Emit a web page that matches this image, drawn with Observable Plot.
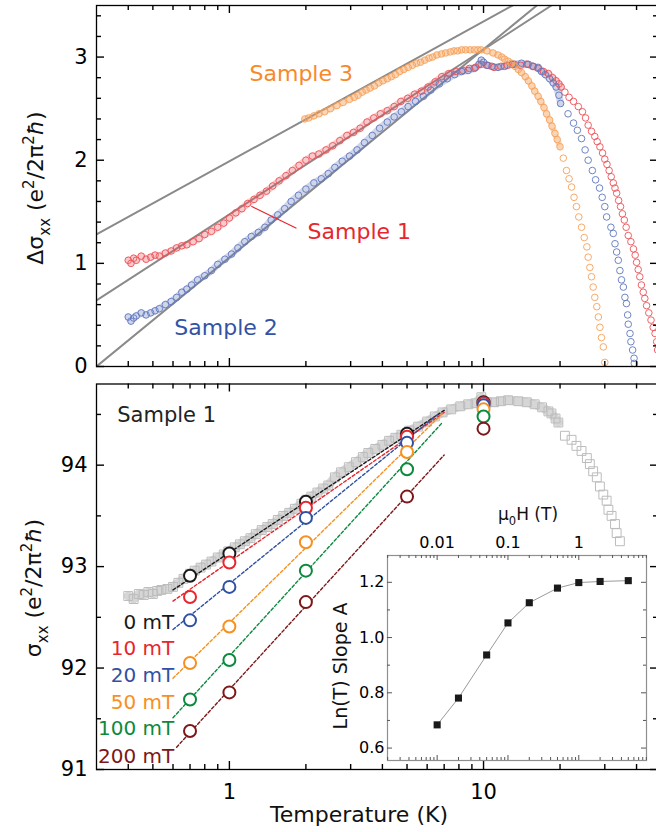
<!DOCTYPE html>
<html><head><meta charset="utf-8">
<script src="https://cdn.jsdelivr.net/npm/d3@7"></script>
<script src="https://cdn.jsdelivr.net/npm/@observablehq/plot@0.6"></script>
<style>
body{margin:0;background:#fff;}
#wrap{position:relative;width:656px;height:832px;overflow:hidden;background:#fff;}
#wrap svg{position:absolute;}
</style></head><body><div id="wrap"></div>
<script>
// ---------------- DATA ----------------
// Top panel: Δσxx vs T (K) for three samples
const sample1 = [
[0.40,1.03],[0.41,1.00],[0.42,1.05],[0.43,1.03],[0.45,1.07],[0.47,1.04],[0.49,1.06],[0.51,1.08],[0.53,1.07],[0.56,1.10],[0.59,1.12],[0.62,1.15],[0.65,1.17],[0.68,1.18],[0.72,1.21],[0.76,1.24],[0.80,1.28],[0.85,1.31],[0.90,1.35],[0.95,1.39],[1.00,1.44],[1.06,1.49],[1.12,1.53],[1.18,1.58],[1.25,1.62],[1.32,1.66],[1.40,1.70],[1.48,1.75],[1.57,1.80],[1.67,1.85],[1.77,1.90],[1.88,1.95],[2.00,2.00],[2.12,2.04],[2.25,2.06],[2.40,2.10],[2.55,2.14],[2.72,2.19],[2.90,2.24],[3.08,2.27],[3.27,2.31],[3.48,2.37],[3.70,2.41],[3.93,2.45],[4.18,2.48],[4.45,2.52],[4.73,2.57],[5.03,2.60],[5.35,2.64],[5.70,2.67],[6.05,2.71],[6.45,2.76],[6.85,2.81],[7.30,2.84],[7.80,2.86],[8.30,2.87],[8.80,2.89],[9.30,2.90],[9.80,2.93],[10.4,2.92],[11.0,2.90],[11.7,2.91],[12.4,2.92],[13.2,2.93],[14.0,2.92],[14.8,2.93],[15.6,2.91],[16.4,2.89],[17.2,2.86],[18.0,2.84],[18.7,2.80],[19.3,2.77],[19.8,2.74],[20.2,2.71],
[20.9,2.66],[21.7,2.61],[22.6,2.57],[23.6,2.52],[24.5,2.47],[25.2,2.41],[25.8,2.34],[26.6,2.28],[27.4,2.23],[28.0,2.18],[28.7,2.13],[29.4,2.07],[30.0,2.01],[30.6,1.96],[31.2,1.90],[31.8,1.84],[32.4,1.78],[32.9,1.73],[33.4,1.68],[34.0,1.61],[34.6,1.55],[35.2,1.48],[35.8,1.42],[36.4,1.35],[37.1,1.27],[38.0,1.21],[38.9,1.14],[39.5,1.08],[40.0,1.01],[40.6,0.94],[41.2,0.87],[41.8,0.79],[42.5,0.72],[43.1,0.66],[43.8,0.59],[44.7,0.52],[45.6,0.45],[46.5,0.38],[47.3,0.32],[48.0,0.24],[48.4,0.16]
];
const sample2 = [
[0.40,0.48],[0.41,0.44],[0.42,0.47],[0.43,0.49],[0.45,0.52],[0.47,0.50],[0.49,0.52],[0.51,0.54],[0.53,0.56],[0.56,0.60],[0.59,0.63],[0.62,0.67],[0.65,0.72],[0.68,0.75],[0.71,0.79],[0.75,0.84],[0.80,0.88],[0.85,0.93],[0.90,0.99],[0.96,1.04],[1.02,1.09],[1.08,1.15],[1.15,1.21],[1.22,1.26],[1.30,1.30],[1.38,1.35],[1.46,1.42],[1.55,1.47],[1.65,1.53],[1.75,1.60],[1.87,1.66],[2.00,1.72],[2.15,1.78],[2.30,1.82],[2.45,1.87],[2.60,1.93],[2.78,1.99],[2.97,2.04],[3.18,2.10],[3.40,2.17],[3.65,2.24],[3.90,2.31],[4.18,2.37],[4.45,2.42],[4.75,2.47],[5.05,2.52],[5.40,2.57],[5.80,2.62],[6.20,2.68],[6.70,2.74],[7.20,2.79],[7.70,2.83],[8.20,2.86],[8.70,2.87],[9.20,2.89],[9.60,2.93],[9.80,2.97],[10.0,2.95],[10.3,2.92],[10.8,2.91],[11.4,2.90],[12.1,2.91],[13.0,2.93],[14.1,2.94],[15.0,2.93],[15.7,2.91],[16.4,2.90],[16.9,2.86],[17.5,2.83],[18.2,2.79],[18.8,2.75],[19.3,2.71],[19.8,2.63],[20.1,2.55],
[21.5,2.45],[22.6,2.36],[23.4,2.29],[24.3,2.21],[25.1,2.10],[25.8,2.00],[26.8,1.90],[27.6,1.81],[28.6,1.73],[29.3,1.64],[30.0,1.55],[30.5,1.45],[31.7,1.35],[32.4,1.29],[32.9,1.19],[33.4,1.11],[33.9,1.03],[34.4,0.93],[34.9,0.84],[35.5,0.77],[36.0,0.67],[36.5,0.61],[36.9,0.50],[37.1,0.41],[37.7,0.32],[38.0,0.24],[38.6,0.16],[39.1,0.08],[39.2,0.03]
];
const sample3 = [
[1.98,2.40],[2.05,2.41],[2.15,2.43],[2.25,2.45],[2.37,2.47],[2.50,2.50],[2.65,2.53],[2.80,2.56],[2.97,2.59],[3.10,2.61],[3.21,2.63],[3.33,2.66],[3.45,2.68],[3.58,2.70],[3.72,2.72],[3.87,2.75],[4.02,2.77],[4.18,2.79],[4.34,2.81],[4.50,2.83],[4.68,2.86],[4.86,2.88],[5.05,2.90],[5.25,2.92],[5.45,2.94],[5.65,2.95],[5.87,2.97],[6.10,2.99],[6.30,3.00],[6.55,3.02],[6.83,3.03],[7.10,3.04],[7.40,3.05],[7.65,3.06],[7.90,3.06],[8.20,3.07],[8.50,3.07],[8.85,3.07],[9.20,3.07],[9.50,3.07],[9.80,3.07],[10.3,3.06],[10.9,3.04],[11.4,3.02],[11.8,3.00],[12.1,2.98],[12.5,2.96],[12.9,2.94],[13.3,2.91],[13.7,2.88],[14.1,2.85],[14.6,2.81],[15.0,2.77],[15.5,2.72],[15.9,2.67],[16.4,2.62],[16.8,2.57],[17.3,2.51],[17.7,2.45],[18.2,2.39],[18.6,2.33],[19.1,2.26],[19.5,2.20],[20.0,2.13],
[20.6,2.02],[21.2,1.90],[21.7,1.82],[22.2,1.74],[22.7,1.64],[23.2,1.55],[23.7,1.45],[24.3,1.35],[24.9,1.25],[25.5,1.16],[25.8,1.06],[26.2,0.96],[26.6,0.87],[27.0,0.77],[27.4,0.67],[27.9,0.58],[28.3,0.48],[28.7,0.38],[29.1,0.28],[29.6,0.19],[30.0,0.04]
];
// straight ln(T) fits, endpoints [T, value]
const fitSample3 = [[0.3,1.28],[13.0,3.5]];
const fitSample1 = [[0.3,0.64],[18.5,3.5]];
const fitSample2 = [[0.3,0.0],[16.2,3.5]];

// Bottom panel: σxx of sample 1 at 0 mT (squares)
const zeroField = [
[0.40,92.71],[0.42,92.68],[0.44,92.73],[0.46,92.72],[0.48,92.75],[0.50,92.73],[0.52,92.76],[0.54,92.77],[0.57,92.78],[0.60,92.80],[0.63,92.84],[0.66,92.88],[0.70,92.93],[0.73,92.96],[0.77,92.99],[0.81,93.02],[0.85,93.05],[0.90,93.09],[0.95,93.12],[0.99,93.15],[1.05,93.19],[1.10,93.22],[1.15,93.25],[1.21,93.28],[1.27,93.32],[1.34,93.36],[1.41,93.39],[1.48,93.42],[1.55,93.46],[1.63,93.50],[1.72,93.53],[1.81,93.57],[1.92,93.62],[2.01,93.66],[2.10,93.69],[2.22,93.73],[2.34,93.77],[2.45,93.80],[2.60,93.88],[2.75,93.93],[2.95,93.98],[3.15,94.03],[3.35,94.08],[3.52,94.12],[3.75,94.16],[4.00,94.20],[4.25,94.24],[4.50,94.27],[4.75,94.30],[5.10,94.34],[5.53,94.38],[6.00,94.43],[6.43,94.48],[6.90,94.52],[7.46,94.55],[8.10,94.58],[8.70,94.60],[9.30,94.61],[9.80,94.67],[10.3,94.62],[11.0,94.62],[11.7,94.63],[12.5,94.64],[13.7,94.63],[14.8,94.62],[15.9,94.60],[17.0,94.57],[18.0,94.53],[18.5,94.51],[19.2,94.46],[19.7,94.42],
[20.9,94.29],[22.2,94.25],[23.2,94.19],[24.3,94.14],[25.5,94.07],[26.2,94.01],[27.0,93.94],[27.9,93.88],[28.7,93.79],[29.6,93.71],[30.5,93.65],[31.0,93.56],[31.9,93.50],[32.9,93.42],[33.4,93.33],[34.4,93.25]
];
// field-dependent points (circles) at these temperatures
const fields = ["0 mT","10 mT","20 mT","50 mT","100 mT","200 mT"];
const circleT = [0.7, 1, 2, 5, 10];
const sigma0mT   = [92.91, 93.13, 93.64, 94.31, 94.62];
const sigma10mT  = [92.70, 93.04, 93.58, 94.28, 94.61];
const sigma20mT  = [92.47, 92.80, 93.48, 94.22, 94.59];
const sigma50mT  = [92.05, 92.41, 93.24, 94.13, 94.55];
const sigma100mT = [91.69, 92.08, 92.96, 93.96, 94.48];
const sigma200mT = [91.38, 91.76, 92.65, 93.69, 94.36];
// dashed ln(T) fits: start and end [T, σ]
const fitStartT = [0.6, 0.6, 0.6, 0.6, 0.6, 0.62];
const fitStartV = [92.77, 92.66, 92.38, 91.90, 91.51, 91.22];
const fitEndT   = [7.0, 7.0, 6.6, 6.9, 6.83, 7.0];
const fitEndV   = [94.54, 94.52, 94.50, 94.51, 94.41, 94.10];

// Inset: Ln(T) slope A vs μ0H (T)
const fieldH = [0.01, 0.02, 0.05, 0.1, 0.2, 0.5, 1, 2, 5];
const slopeA = [0.684, 0.781, 0.937, 1.053, 1.126, 1.179, 1.199, 1.203, 1.206];

// Tick values
const xMajor = [1, 10];
const xMinor = [0.4,0.5,0.6,0.7,0.8,0.9,2,3,4,5,6,7,8,9,20,30,40];
const topYMajor = [0,1,2,3];
const topYMinor = [0.2,0.4,0.6,0.8,1.2,1.4,1.6,1.8,2.2,2.4,2.6,2.8,3.2,3.4];
const botYMajor = [91,92,93,94];
const botYMinor = [91.5,92.5,93.5,94.5];
const insetXMajor = [0.01, 0.1, 1];
const insetXMinor = [0.002,0.003,0.004,0.005,0.006,0.007,0.008,0.009,0.02,0.03,0.04,0.05,0.06,0.07,0.08,0.09,0.2,0.3,0.4,0.5,0.6,0.7,0.8,0.9,2,3,4,5,6,7,8,9];
const insetYMajor = [0.6, 0.8, 1.0, 1.2];
const insetYMinor = [0.7, 0.9, 1.1];

// ---------------- STYLE ----------------
const FONT = "'DejaVu Sans', sans-serif";
const fieldColors = ["#1a1a1a", "#e8262d", "#2f51a3", "#f7901e", "#0b8a3e", "#7d1718"];
const sampleColors = {s1: "#e8262d", s2: "#3452a4", s3: "#f7892b"};
const dotColors = {s1: "#ec5157", s2: "#6077bd", s3: "#f6a059"};
const svgStyle = {background: "transparent", maxWidth: "none", fontFamily: FONT, overflow: "visible", color: "black"};

const X = d => d[0], Y = d => d[1];
const I = d => d;

// inward ticks on all four sides as short rules; tick length converted from px to data units
function boxTicks(xDom, yDom, fw, fh, xMaj, xMin, yMaj, yMin, major, minor, stroke, sw) {
  const [x0, x1] = xDom, [y0, y1] = yDom;
  const pxPerDecade = fw / Math.log10(x1 / x0);
  const pxPerUnit = fh / (y1 - y0);
  const xl = len => x0 * Math.pow(10, len / pxPerDecade);
  const xr = len => x1 / Math.pow(10, len / pxPerDecade);
  const yb = len => y0 + len / pxPerUnit;
  const yt = len => y1 - len / pxPerUnit;
  const o = {stroke, strokeWidth: sw};
  const marks = [];
  for (const [arr, len] of [[xMaj, major], [xMin, minor]]) {
    marks.push(Plot.ruleX(arr, {...o, x: I, y1: y0, y2: yb(len)}));
    marks.push(Plot.ruleX(arr, {...o, x: I, y1: yt(len), y2: y1}));
  }
  for (const [arr, len] of [[yMaj, major], [yMin, minor]]) {
    marks.push(Plot.ruleY(arr, {...o, y: I, x1: x0, x2: xl(len)}));
    marks.push(Plot.ruleY(arr, {...o, y: I, x1: xr(len), x2: x1}));
  }
  return marks;
}

function rich(svg, {x, y, rotate, size, anchor = "middle", parts, fill = "#111", family = FONT}) {
  const t = d3.select(svg).append("text")
    .attr("transform", `translate(${x},${y})` + (rotate ? ` rotate(${rotate})` : ""))
    .attr("text-anchor", anchor).attr("font-size", size).attr("fill", fill)
    .attr("font-family", family);
  let shift = 0;
  for (const [s, m, extra] of parts) {
    const target = m === "sub" ? size * 0.3 : m === "sup" ? -size * 0.42 : 0;
    const sp = t.append("tspan").text(s).attr("dy", target - shift);
    if (m === "sub" || m === "sup") sp.attr("font-size", size * 0.68);
    if (extra === "italic") sp.attr("font-style", "italic");
    shift = target;
  }
  return t;
}

const wrap = document.getElementById("wrap");
const mainX = [0.3, 48.8];
const topY = [0, 3.5];
const botY = [91, 94.8];

// ---------------- TOP PANEL ----------------
const dense = (arr, lim) => arr.filter(d => d[0] <= lim);
const topPlot = Plot.plot({
  width: 660, height: 372,
  marginLeft: 96, marginRight: 2, marginTop: 5, marginBottom: 6,
  x: {type: "log", domain: mainX, axis: null},
  y: {domain: topY, axis: null},
  style: svgStyle,
  marks: [
    Plot.line(fitSample3, {x: X, y: Y, stroke: "#8a8a8a", strokeWidth: 2, clip: true}),
    Plot.line(fitSample1, {x: X, y: Y, stroke: "#8a8a8a", strokeWidth: 2, clip: true}),
    Plot.line(fitSample2, {x: X, y: Y, stroke: "#8a8a8a", strokeWidth: 2, clip: true}),
    Plot.line(dense(sample1, 20.3), {x: X, y: Y, stroke: dotColors.s1, strokeWidth: 7, strokeOpacity: 0.3}),
    Plot.line(dense(sample2, 20.2), {x: X, y: Y, stroke: dotColors.s2, strokeWidth: 7, strokeOpacity: 0.3}),
    Plot.line(dense(sample3, 20.1), {x: X, y: Y, stroke: dotColors.s3, strokeWidth: 6, strokeOpacity: 0.45}),
    Plot.dot(sample1, {x: X, y: Y, r: 3.3, stroke: dotColors.s1, strokeWidth: 0.9, fill: "none"}),
    Plot.dot(sample2, {x: X, y: Y, r: 3.3, stroke: dotColors.s2, strokeWidth: 0.9, fill: "none"}),
    Plot.dot(sample3, {x: X, y: Y, r: 3.3, stroke: dotColors.s3, strokeWidth: 0.9, fill: "none"}),
    Plot.link([{x1: 1.22, y1: 1.553, x2: 1.836, y2: 1.34}], {x1: "x1", y1: "y1", x2: "x2", y2: "y2", stroke: sampleColors.s1, strokeWidth: 1.2}),
    Plot.text([{x: 1.2, y: 2.835, s: "Sample 3"}], {x: "x", y: "y", text: "s", fill: sampleColors.s3, fontSize: 22, textAnchor: "start"}),
    Plot.text([{x: 2.03, y: 1.30, s: "Sample 1"}], {x: "x", y: "y", text: "s", fill: sampleColors.s1, fontSize: 22, textAnchor: "start"}),
    Plot.text([{x: 0.607, y: 0.37, s: "Sample 2"}], {x: "x", y: "y", text: "s", fill: sampleColors.s2, fontSize: 22, textAnchor: "start"}),
    Plot.frame({stroke: "black", strokeWidth: 1.3}),
    ...boxTicks(mainX, topY, 562, 361, xMajor, xMinor, topYMajor, topYMinor, 8, 5, "black", 1.4),
    Plot.axisY({ticks: topYMajor, anchor: "left", tickSize: 0, tickPadding: 9, fontSize: 21, label: null, tickFormat: d => String(d)})
  ]
});
topPlot.style.left = "0px"; topPlot.style.top = "0px";
wrap.appendChild(topPlot);
rich(topPlot, {x: 43, y: 188, rotate: -90, size: 22, parts: [["Δσ"], ["xx", "sub"], [" (e"], ["2", "sup"], ["/2π"], ["2", "sup"], ["ħ", null, "italic"], [")"]]});

// ---------------- BOTTOM PANEL ----------------
const fieldSeries = [sigma0mT, sigma10mT, sigma20mT, sigma50mT, sigma100mT, sigma200mT];
const legendY = [92.45, 92.19, 91.93, 91.66, 91.40, 91.13];
const botMarks = [
  Plot.line(dense(zeroField, 19.8), {x: X, y: Y, stroke: "#d6d6d6", strokeWidth: 9}),
  Plot.dot(zeroField, {x: X, y: Y, symbol: "square", r: 5, stroke: "#bcbcbc", strokeWidth: 1, fill: "none"})
];
fields.forEach((f, i) => {
  botMarks.push(Plot.line([[fitStartT[i], fitStartV[i]], [fitEndT[i], fitEndV[i]]],
    {x: X, y: Y, stroke: fieldColors[i], strokeWidth: 1.4, strokeDasharray: "3,2.2"}));
});
fields.forEach((f, i) => {
  const rows = circleT.map((t, j) => [t, fieldSeries[i][j]]);
  botMarks.push(Plot.dot(rows, {x: X, y: Y, r: 6, stroke: fieldColors[i], strokeWidth: 2, fill: "white"}));
  botMarks.push(Plot.text([{x: 0.607, y: legendY[i], s: f}], {x: "x", y: "y", text: "s", fill: fieldColors[i], fontSize: 20, textAnchor: "end"}));
});
botMarks.push(
  Plot.text([{x: 0.362, y: 94.49, s: "Sample 1"}], {x: "x", y: "y", text: "s", fill: "#222", fontSize: 21, textAnchor: "start"}),
  Plot.frame({stroke: "black", strokeWidth: 1.3}),
  ...boxTicks(mainX, botY, 562, 385.5, xMajor, xMinor, botYMajor, botYMinor, 8, 5, "black", 1.4),
  Plot.axisY({ticks: botYMajor, anchor: "left", tickSize: 0, tickPadding: 9, fontSize: 21, label: null, tickFormat: d => String(d)}),
  Plot.axisX({ticks: xMajor, anchor: "bottom", tickSize: 0, tickPadding: 15, fontSize: 21, label: null, tickFormat: d => String(d)})
);
const botPlot = Plot.plot({
  width: 660, height: 456,
  marginLeft: 96, marginRight: 2, marginTop: 7.5, marginBottom: 63,
  x: {type: "log", domain: mainX},
  y: {domain: botY},
  style: svgStyle,
  marks: botMarks
});
botPlot.style.left = "0px"; botPlot.style.top = "376px";
wrap.appendChild(botPlot);
rich(botPlot, {x: 41, y: 212, rotate: -90, size: 22, parts: [["σ"], ["xx", "sub"], [" (e"], ["2", "sup"], ["/2π"], ["2", "sup"], ["ħ", null, "italic"], [")"]]});
rich(botPlot, {x: 359, y: 446, size: 22, parts: [["Temperature (K)"]]});

// ---------------- INSET ----------------
const insetX = [0.00199, 9.04];
const insetY = [0.555, 1.297];
const insetRows = fieldH.map((h, i) => [h, slopeA[i]]);
const insetPlot = Plot.plot({
  width: 326, height: 300,
  marginLeft: 57, marginRight: 10, marginTop: 85, marginBottom: 10,
  x: {type: "log", domain: insetX},
  y: {domain: insetY},
  style: svgStyle,
  marks: [
    Plot.frame({fill: "white", stroke: "#8f8f8f", strokeWidth: 1.2}),
    Plot.line(insetRows, {x: X, y: Y, stroke: "#9a9a9a", strokeWidth: 1}),
    Plot.dot(insetRows, {x: X, y: Y, symbol: "square", r: 4, fill: "#1a1a1a", stroke: "none"}),
    ...boxTicks(insetX, insetY, 259, 205, insetXMajor, insetXMinor, insetYMajor, insetYMinor, 5, 3, "#555", 1),
    Plot.axisX({ticks: insetXMajor, anchor: "top", tickSize: 0, tickPadding: 8, fontSize: 16, label: null, tickFormat: d => String(d)}),
    Plot.axisY({ticks: insetYMajor, anchor: "left", tickSize: 0, tickPadding: 3, fontSize: 16, label: null, tickFormat: d => d.toFixed(1)})
  ]
});
insetPlot.style.left = "330px"; insetPlot.style.top = "470px";
wrap.appendChild(insetPlot);
rich(insetPlot, {x: 198, y: 50, size: 17, parts: [["μ"], ["0", "sub"], ["H (T)"]]});
rich(insetPlot, {x: 17, y: 196, rotate: -90, size: 19, parts: [["Ln(T) Slope A"]]});
</script></body></html>
